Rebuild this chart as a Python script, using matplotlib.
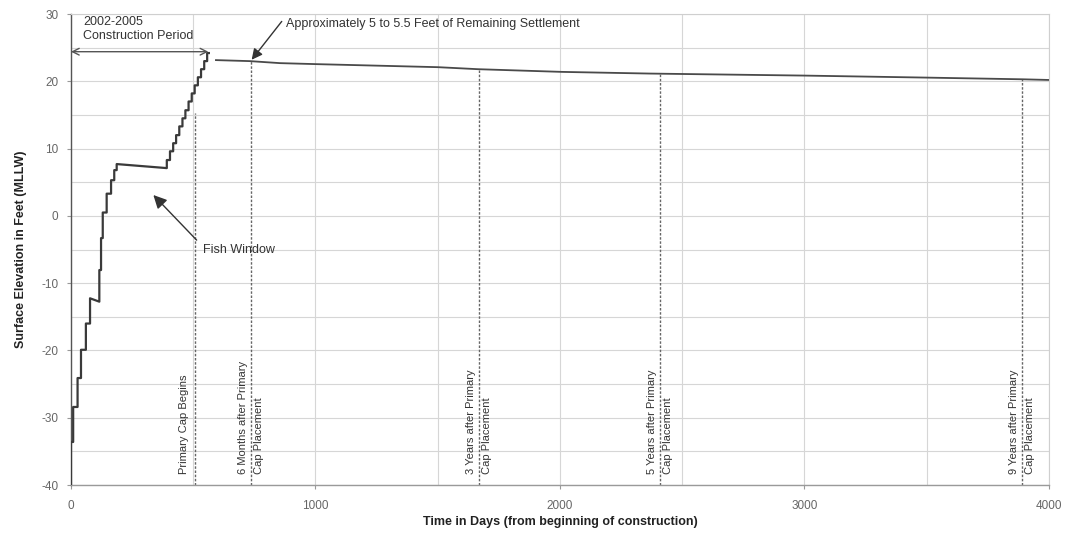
import matplotlib
matplotlib.use("Agg")
import matplotlib.pyplot as plt
from matplotlib.ticker import MultipleLocator

plt.rcParams["font.family"] = ["Liberation Sans", "DejaVu Sans"]
plt.rcParams["axes.unicode_minus"] = False

# Fill placement record during construction (days, surface elevation in ft MLLW)
build_days = [0, 0, 9, 9, 27, 27, 41, 41, 61, 61, 78, 78, 116, 116, 123, 123,
              130, 130, 146, 146, 164, 164, 177, 177, 187, 187, 392, 392, 405, 405,
              418, 418, 430, 430, 443, 443, 456, 456, 468, 468, 481, 481, 494, 494,
              506, 506, 519, 519, 532, 532, 545, 545, 557, 557, 564]
build_elev = [-40, -33.6, -33.6, -28.4, -28.4, -24.1, -24.1, -19.9, -19.9, -16.0,
              -16.0, -12.25, -12.75, -8.05, -8.05, -3.3, -3.3, 0.5, 0.5, 3.3, 3.3,
              5.3, 5.3, 6.8, 6.8, 7.7, 7.1, 8.3, 8.3, 9.6, 9.6, 10.8, 10.8, 12.0,
              12.0, 13.3, 13.3, 14.5, 14.5, 15.7, 15.7, 17.0, 17.0, 18.2, 18.2,
              19.4, 19.4, 20.6, 20.6, 21.8, 21.8, 23.0, 23.0, 24.2, 24.2]

# Predicted post-construction settlement
settle_days = [593, 732, 855, 1006, 1501, 1665, 2008, 2368, 3000, 3500, 3890, 4000]
settle_elev = [23.15, 23.0, 22.7, 22.55, 22.1, 21.8, 21.4, 21.15, 20.85, 20.55, 20.3, 20.2]

# Milestones
milestone_days = [507, 736, 1669, 2409, 3890]
milestone_top = [15.3, 23.0, 21.8, 21.1, 20.3]
milestone_labels = ["Primary Cap Begins",
                    "6 Months after Primary\nCap Placement",
                    "3 Years after Primary\nCap Placement",
                    "5 Years after Primary\nCap Placement",
                    "9 Years after Primary\nCap Placement"]

x_ticks = [0, 1000, 2000, 3000, 4000]
y_ticks = [-40, -30, -20, -10, 0, 10, 20, 30]

fig = plt.figure(figsize=(10.72, 5.33), dpi=100)
ax = fig.add_axes([0.0662, 0.090, 0.9123, 0.8837])

ax.set_xlim(0, 4000)
ax.set_ylim(-40, 30)
ax.set_xticks(x_ticks)
ax.set_yticks(y_ticks)
ax.xaxis.set_minor_locator(MultipleLocator(500))
ax.yaxis.set_minor_locator(MultipleLocator(5))
ax.grid(which="both", color="#d6d6d6", linewidth=0.8)
ax.set_axisbelow(True)

for side in ("top", "right"):
    ax.spines[side].set_color("#cfcfcf")
    ax.spines[side].set_linewidth(0.8)
ax.spines["left"].set_color("#555555")
ax.spines["bottom"].set_color("#9a9a9a")
ax.spines["left"].set_linewidth(1.0)
ax.spines["bottom"].set_linewidth(1.0)

ax.tick_params(which="major", length=3, color="#999999", labelcolor="#666666",
               labelsize=8.5)
ax.tick_params(axis="x", pad=8)
ax.tick_params(axis="y", pad=6)
ax.tick_params(which="minor", length=0)

# Curves
ax.plot(build_days, build_elev, color="#3a3a3a", linewidth=1.6, zorder=3)
ax.plot(settle_days, settle_elev, color="#4a4a4a", linewidth=1.3, zorder=3)

# Milestone lines with labels
for d, top, lab in zip(milestone_days, milestone_top, milestone_labels):
    ax.plot([d, d], [-40, top], color="#666666", linewidth=1.0,
            linestyle=(0, (1.8, 1.2)), zorder=2)
    if "\n" in lab:
        ax.annotate(lab, xy=(d, -38.3), xytext=(0, 0), textcoords="offset points",
                    rotation=90, ha="center", va="bottom", multialignment="left",
                    fontsize=8, color="#333333", linespacing=1.65)
    else:
        ax.annotate(lab, xy=(d, -38.3), xytext=(-4, 0), textcoords="offset points",
                    rotation=90, ha="right", va="bottom", fontsize=8,
                    color="#333333")

# Construction period span
ax.annotate("", xy=(0, 24.4), xytext=(562, 24.4),
            arrowprops=dict(arrowstyle="<->", color="#555555", lw=1.0,
                            mutation_scale=12, shrinkA=0, shrinkB=0))
ax.text(50, 25.9, "2002-2005\nConstruction Period", fontsize=9, color="#333333",
        ha="left", va="bottom", linespacing=1.15)

# Remaining settlement callout
ax.annotate("", xy=(739, 23.2), xytext=(862, 28.9),
            arrowprops=dict(arrowstyle="-|>", color="#333333", lw=1.0,
                            mutation_scale=16, shrinkA=0, shrinkB=0))
ax.text(880, 28.5, "Approximately 5 to 5.5 Feet of Remaining Settlement",
        fontsize=9, color="#333333", ha="left", va="center")

# Fish window callout
ax.annotate("", xy=(337, 3.1), xytext=(514, -3.6),
            arrowprops=dict(arrowstyle="-|>", color="#333333", lw=1.0,
                            mutation_scale=20, shrinkA=0, shrinkB=0))
ax.text(540, -5.0, "Fish Window", fontsize=9, color="#333333",
        ha="left", va="center")

ax.set_xlabel("Time in Days (from beginning of construction)", fontsize=9,
              fontweight="bold", color="#222222", labelpad=3)
ax.set_ylabel("Surface Elevation in Feet (MLLW)", fontsize=9,
              fontweight="bold", color="#222222", labelpad=10)

fig.savefig("out.png", dpi=100)
